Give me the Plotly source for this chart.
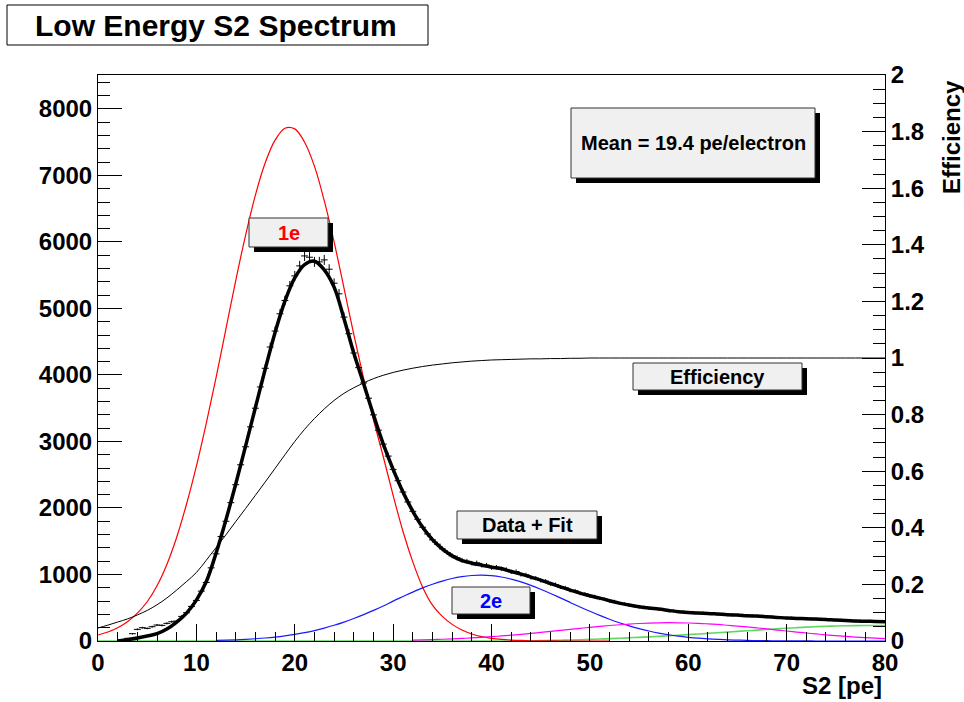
import numpy as np
import plotly.graph_objects as go

# ---------------- data ----------------
# measured S2 spectrum, 0.5 pe bins (counts)
data_x = np.arange(3.0, 80.25, 0.5)
data_counts = [
    40, 110, 175, 200, 190, 215, 240, 235, 265, 290,
    300, 370, 425, 520, 610, 750, 880, 1100, 1310, 1570,
    1800, 2080, 2350, 2650, 2920, 3220, 3500, 3820, 4100, 4420,
    4660, 4920, 5120, 5340, 5490, 5640, 5790, 5770, 5700, 5700,
    5730, 5590, 5380, 5220, 4870, 4620, 4330, 4110, 3880, 3650,
    3400, 3170, 2960, 2780, 2580, 2410, 2240, 2090, 1950, 1830,
    1710, 1610, 1520, 1455, 1385, 1330, 1280, 1250, 1215, 1200,
    1170, 1175, 1140, 1140, 1105, 1110, 1085, 1075, 1040, 1045,
    1000, 995, 955, 945, 910, 900, 860, 850, 810, 800,
    760, 755, 715, 710, 675, 670, 640, 630, 600, 595,
    565, 560, 535, 530, 510, 510, 490, 490, 475, 475,
    455, 455, 440, 440, 428, 432, 418, 425, 412, 415,
    402, 405, 393, 398, 387, 390, 378, 382, 372, 375,
    362, 365, 352, 355, 343, 347, 337, 342, 332, 336,
    327, 332, 322, 325, 312, 317, 307, 310, 297, 304,
    295, 301, 292, 297, 288,
]

# total fit (x = 2 .. 80)
fit_x = list(range(2, 81))
fit_counts = [
    0, 20, 45, 75, 110, 180, 285, 420, 615, 890,
    1320, 1820, 2360, 2930, 3510, 4090, 4640, 5110, 5460, 5660,
    5710, 5580, 5320, 4850, 4330, 3870, 3400, 2960, 2580, 2240,
    1950, 1710, 1525, 1385, 1280, 1210, 1170, 1140, 1110, 1090,
    1045, 1005, 960, 915, 865, 815, 765, 720, 680, 645,
    605, 570, 540, 515, 495, 480, 460, 440, 430, 420,
    415, 405, 395, 390, 380, 375, 365, 355, 345, 340,
    335, 330, 325, 315, 310, 300, 298, 295, 290,
]

# single-electron component (x = 0 .. 52)
e1_x = list(range(0, 53))
e1_counts = [
    90, 135, 200, 290, 420, 590, 830, 1150, 1560, 2060,
    2630, 3270, 3960, 4690, 5420, 6100, 6705, 7190, 7530, 7710,
    7700, 7500, 7140, 6620, 6000, 5310, 4610, 3950, 3330, 2770,
    2190, 1650, 1190, 810, 540, 370, 250, 165, 105, 65,
    40, 24, 14, 8, 4, 2, 1, 0, 0, 0,
    0, 0, 0,
]

# two-electron component (x = 12 .. 80)
e2_x = list(range(12, 81))
e2_counts = [
    9, 13, 18, 25, 34, 45, 59, 77, 99, 125,
    157, 194, 236, 284, 338, 397, 460, 526, 600, 668,
    735, 798, 853, 900, 940, 968, 985, 990, 982, 962,
    930, 888, 837, 779, 715, 648, 580, 512, 447, 385,
    327, 274, 227, 186, 150, 119, 94, 73, 56, 42,
    32, 24, 17, 13, 9, 6, 5, 3, 2, 1,
    1, 0, 0, 0, 0, 0, 0, 0, 0,
]

# three-electron component (x = 32 .. 80)
e3_x = list(range(32, 81))
e3_counts = [
    14, 17, 21, 26, 32, 39, 46, 55, 65, 76,
    87, 100, 114, 129, 144, 159, 175, 190, 205, 219,
    233, 244, 255, 263, 269, 273, 275, 274, 271, 266,
    258, 249, 237, 225, 211, 196, 181, 165, 150, 134,
    120, 106, 92, 80, 69, 59, 50, 42, 35,
]

# four-electron component (x = 0 .. 80)
e4_x = list(range(0, 81))
e4_counts = [
    0, 0, 0, 0, 0, 0, 0, 0, 0, 0,
    0, 0, 0, 0, 0, 0, 0, 0, 0, 0,
    0, 0, 0, 0, 0, 0, 0, 0, 0, 0,
    0, 0, 0, 0, 0, 0, 0, 0, 0, 0,
    0, 0, 0, 0, 0, 7, 9, 12, 15, 19,
    24, 29, 35, 41, 48, 55, 62, 70, 78, 87,
    96, 105, 115, 124, 134, 144, 154, 164, 174, 183,
    192, 200, 208, 215, 221, 226, 229, 231, 232, 232,
    231,
]

# trigger efficiency (x = 0 .. 80), right axis
eff_x = list(range(0, 81))
eff_values = [
    0.046, 0.056, 0.067, 0.078, 0.092, 0.108, 0.128, 0.152, 0.180, 0.210,
    0.242, 0.285, 0.330, 0.375, 0.422, 0.468, 0.515, 0.562, 0.610, 0.658,
    0.705, 0.748, 0.786, 0.820, 0.850, 0.875, 0.895, 0.912, 0.927, 0.939,
    0.949, 0.957, 0.964, 0.970, 0.975, 0.979, 0.983, 0.986, 0.989, 0.991,
    0.993, 0.994, 0.995, 0.996, 0.997, 0.997, 0.998, 0.998, 0.999, 0.999,
    1.0, 1.0, 1.0, 1.0, 1.0, 1.0, 1.0, 1.0, 1.0, 1.0,
    1.0, 1.0, 1.0, 1.0, 1.0, 1.0, 1.0, 1.0, 1.0, 1.0,
    1.0, 1.0, 1.0, 1.0, 1.0, 1.0, 1.0, 1.0, 1.0, 1.0,
    1.0,
]

# ---------------- page geometry ----------------
W, H = 964, 702
FL, FR, FT, FB = 98, 885, 75, 641     # frame edges in pixels
FONT = "Liberation Sans, Arial, Helvetica, sans-serif"


def px(x):
    return (x - FL) / (FR - FL)


def py(y):
    return (FB - y) / (FB - FT)


fig = go.Figure()

fig.add_trace(go.Scatter(x=e4_x, y=e4_counts, mode="lines", line_shape="spline",
                         line=dict(color="#5fd85f", width=1.6), hoverinfo="skip"))
fig.add_trace(go.Scatter(x=e1_x, y=e1_counts, mode="lines", line_shape="spline",
                         line=dict(color="#ff0000", width=1.2), hoverinfo="skip"))
fig.add_trace(go.Scatter(x=e2_x, y=e2_counts, mode="lines", line_shape="spline",
                         line=dict(color="#1a1aff", width=1.2), hoverinfo="skip"))
fig.add_trace(go.Scatter(x=e3_x, y=e3_counts, mode="lines", line_shape="spline",
                         line=dict(color="#ff00ff", width=1.2), hoverinfo="skip"))
fig.add_trace(go.Scatter(x=data_x, y=data_counts, mode="markers",
                         marker=dict(color="black", size=1),
                         error_x=dict(type="constant", value=0.35, width=0,
                                      color="black", thickness=1),
                         error_y=dict(type="sqrt", width=0, color="black", thickness=1),
                         hoverinfo="skip"))
fig.add_trace(go.Scatter(x=fit_x, y=fit_counts, mode="lines", line_shape="spline",
                         line=dict(color="black", width=3.5), hoverinfo="skip"))
fig.add_trace(go.Scatter(x=eff_x, y=eff_values, mode="lines", line_shape="spline",
                         yaxis="y2", line=dict(color="black", width=1),
                         hoverinfo="skip"))

tickfont = dict(family=FONT, size=24, color="black", weight="bold")

fig.update_layout(
    width=W, height=H, autosize=False,
    margin=dict(l=FL, r=W - FR, t=FT, b=H - FB, pad=0),
    paper_bgcolor="white", plot_bgcolor="white",
    showlegend=False,
    xaxis=dict(range=[0, 80], showgrid=False, zeroline=False,
               showline=True, mirror=True, linecolor="black", linewidth=1,
               ticks="inside", ticklen=17, tickwidth=1, tickcolor="black",
               tick0=0, dtick=10, tickfont=tickfont,
               minor=dict(ticks="inside", ticklen=9, dtick=2, tickcolor="black",
                          showgrid=False)),
    yaxis=dict(range=[0, 8510], showgrid=False, zeroline=False,
               showline=True, mirror=True, linecolor="black", linewidth=1,
               ticks="inside", ticklen=24, tickwidth=1, tickcolor="black",
               tick0=0, dtick=1000, tickformat="d", tickfont=tickfont,
               minor=dict(ticks="inside", ticklen=12, dtick=200, tickcolor="black",
                          showgrid=False)),
    yaxis2=dict(range=[0, 2], overlaying="y", side="right", showgrid=False,
                zeroline=False, showline=True, linecolor="black", linewidth=1,
                ticks="inside", ticklen=23, tickwidth=1, tickcolor="black",
                tick0=0, dtick=0.2, tickfont=tickfont,
                minor=dict(ticks="inside", ticklen=12, dtick=0.05, tickcolor="black",
                           showgrid=False)),
)

shapes = []
annotations = []

# title box
shapes.append(dict(type="rect", xref="paper", yref="paper",
                   x0=px(7), x1=px(428), y0=py(45), y1=py(5),
                   fillcolor="white", line=dict(color="black", width=1), layer="above"))
annotations.append(dict(xref="paper", yref="paper", x=px(216), y=py(25),
                        text="Low Energy S2 Spectrum", showarrow=False,
                        xanchor="center", yanchor="middle",
                        font=dict(family=FONT, size=30, color="black", weight="bold")))

# labelled panes with drop shadow: (x0, y0, x1, y1, text, colour)
panes = [
    (571, 108, 815, 178, "Mean = 19.4 pe/electron", "black"),
    (249, 218, 328, 247, "1e", "#ff0000"),
    (633, 363, 802, 390, "Efficiency", "black"),
    (457, 511, 597, 539, "Data + Fit", "black"),
    (452, 587, 530, 614, "2e", "#0000ff"),
]
SH = 5
for x0, y0, x1, y1, txt, col in panes:
    shapes.append(dict(type="rect", xref="paper", yref="paper",
                       x0=px(x0 + SH), x1=px(x1 + SH), y0=py(y1 + SH), y1=py(y0 + SH),
                       fillcolor="black", line=dict(width=0), layer="above"))
    shapes.append(dict(type="rect", xref="paper", yref="paper",
                       x0=px(x0), x1=px(x1), y0=py(y1), y1=py(y0),
                       fillcolor="#f0f0f0", line=dict(color="#333333", width=1),
                       layer="above"))
    annotations.append(dict(xref="paper", yref="paper",
                            x=px((x0 + x1) / 2), y=py((y0 + y1) / 2),
                            text=txt, showarrow=False,
                            xanchor="center", yanchor="middle",
                            font=dict(family=FONT, size=20, color=col, weight="bold")))

# axis titles
annotations.append(dict(xref="paper", yref="paper", x=px(884), y=py(686),
                        text="S2 [pe]", showarrow=False,
                        xanchor="right", yanchor="middle",
                        font=dict(family=FONT, size=24, color="black", weight="bold")))
annotations.append(dict(xref="paper", yref="paper", x=px(951), y=py(78),
                        text="Efficiency", showarrow=False, textangle=-90,
                        xanchor="center", yanchor="top",
                        font=dict(family=FONT, size=24, color="black", weight="bold")))

fig.update_layout(shapes=shapes, annotations=annotations)

fig.write_html("out.html")
